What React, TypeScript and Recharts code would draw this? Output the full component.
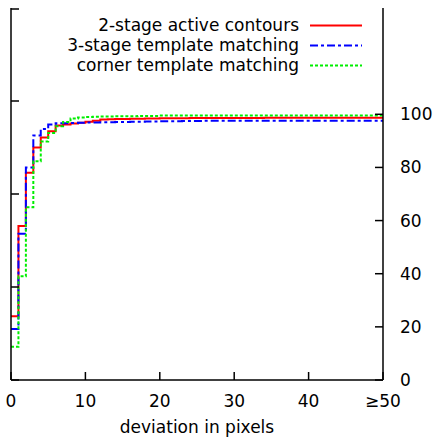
import { LineChart, Line, XAxis, YAxis, Legend } from "recharts";

const deviation = Array.from({ length: 51 }, (_, i) => i);

const activeContours = [
  24, 58, 78, 87.5, 91.3, 93.6, 95.8, 96.2, 96.5, 96.8,
  97.2, 97.6, 98, 98.1, 98.2, 98.2, 98.3, 98.3, 98.4, 98.4,
  98.5, 98.5, 98.5, 98.5, 98.6, 98.6, 98.6, 98.6, 98.6, 98.6,
  98.6, 98.6, 98.6, 98.6, 98.7, 98.7, 98.7, 98.7, 98.7, 98.7,
  98.7, 98.7, 98.7, 98.7, 98.7, 98.7, 98.7, 98.7, 98.7, 98.7,
  98.7,
];

const threeStage = [
  19.2, 55, 80, 92, 94.5, 96.2, 96.6, 96.6, 96.7, 96.8,
  96.9, 96.9, 97, 97, 97.1, 97.1, 97.2, 97.2, 97.3, 97.3,
  97.4, 97.4, 97.4, 97.5, 97.5, 97.5, 97.6, 97.6, 97.6, 97.6,
  97.6, 97.6, 97.6, 97.6, 97.6, 97.6, 97.6, 97.6, 97.6, 97.6,
  97.6, 97.6, 97.6, 97.6, 97.6, 97.6, 97.6, 97.6, 97.6, 97.6,
  97.6,
];

const cornerTemplate = [
  12.5, 39, 65, 82.3, 89.8, 93, 95.5, 97.1, 98.4, 98.8,
  99, 99.1, 99.2, 99.2, 99.3, 99.3, 99.3, 99.4, 99.4, 99.4,
  99.5, 99.5, 99.5, 99.5, 99.5, 99.5, 99.5, 99.5, 99.5, 99.5,
  99.5, 99.5, 99.5, 99.5, 99.5, 99.5, 99.5, 99.5, 99.5, 99.5,
  99.5, 99.5, 99.5, 99.5, 99.5, 99.5, 99.5, 99.5, 99.5, 99.5,
  99.5,
];

const xTicks = [0, 10, 20, 30, 40, 50];
const xTickLabels = ["0", "10", "20", "30", "40", "≥50"];
const yTicks = [0, 20, 40, 60, 80, 100];
const leftTicks = [0, 1, 2, 3, 4];

const SERIES = [
  { key: "a", name: "2-stage active contours", color: "#ff0000", dash: undefined },
  { key: "b", name: "3-stage template matching", color: "#0000ff", dash: "8 3 3 3" },
  { key: "c", name: "corner template matching", color: "#00ee00", dash: "3 2" },
];

const data = deviation.map((x, i) => ({
  x,
  a: activeContours[i],
  b: threeStage[i],
  c: cornerTemplate[i],
}));

const FONT = "DejaVu Sans";

// gnuplot-style ticks point into the plot, drawn as paths
const tickPath = (d: string) => <path d={d} stroke="#000" strokeWidth={1.5} fill="none" />;

const BottomTick = (props: any) => {
  const { x, y, payload } = props;
  const idx = xTicks.indexOf(payload.value);
  return (
    <g>
      <text x={x} y={y + 27} textAnchor="middle" fontSize={17} fontFamily={FONT} fill="#000">
        {xTickLabels[idx]}
      </text>
      {tickPath(`M${x},${y}V${y - 8}`)}
    </g>
  );
};

const TopTick = (props: any) => {
  const { x, y } = props;
  return <g>{tickPath(`M${x},${y}V${y + 8}`)}</g>;
};

const LeftTick = (props: any) => {
  const { x, y } = props;
  return <g>{tickPath(`M${x},${y}H${x + 8}`)}</g>;
};

const RightTick = (props: any) => {
  const { x, y, payload } = props;
  return (
    <g>
      <text x={x + 17} y={y + 6} textAnchor="start" fontSize={17} fontFamily={FONT} fill="#000">
        {payload.value}
      </text>
      {tickPath(`M${x},${y}H${x - 8}`)}
    </g>
  );
};

const LegendBox = () => (
  <svg width={445} height={80}>
    {SERIES.map((s, i) => (
      <g key={s.key}>
        <text
          x={299}
          y={31 + i * 20}
          textAnchor="end"
          fontSize={17}
          fontFamily={FONT}
          fill="#000"
        >
          {s.name}
        </text>
        <line
          x1={310}
          x2={362}
          y1={25.5 + i * 20}
          y2={25.5 + i * 20}
          stroke={s.color}
          strokeWidth={2}
          strokeDasharray={s.dash}
        />
      </g>
    ))}
  </svg>
);

export default function App() {
  return (
    <div style={{ position: "absolute", left: 0, top: 0, width: 445, height: 441, background: "#fff" }}>
      <LineChart
        width={445}
        height={441}
        data={data}
        margin={{ top: 8, right: 0, bottom: 0, left: 0 }}
      >
        <XAxis
          xAxisId="bottom"
          dataKey="x"
          type="number"
          domain={[0, 50]}
          allowDataOverflow
          ticks={xTicks}
          height={61}
          tickSize={0}
          tickMargin={0}
          tick={BottomTick}
          tickLine={false}
          axisLine={{ stroke: "#000", strokeWidth: 1.5 }}
          label={{
            value: "deviation in pixels",
            position: "insideBottom",
            offset: 8,
            fontSize: 17,
            fontFamily: FONT,
            fill: "#000",
          }}
        />
        <XAxis
          xAxisId="top"
          orientation="top"
          dataKey="x"
          type="number"
          domain={[0, 50]}
          allowDataOverflow
          ticks={xTicks}
          height={0}
          tickSize={0}
          tickMargin={0}
          tick={TopTick}
          tickLine={false}
          axisLine={{ stroke: "#000", strokeWidth: 1.5 }}
        />
        <YAxis
          yAxisId="left"
          orientation="left"
          type="number"
          domain={[0, 4]}
          allowDataOverflow
          ticks={leftTicks}
          width={11}
          tickSize={0}
          tickMargin={0}
          tick={LeftTick}
          tickLine={false}
          axisLine={{ stroke: "#000", strokeWidth: 1.5 }}
        />
        <YAxis
          yAxisId="right"
          orientation="right"
          type="number"
          domain={[0, 140]}
          allowDataOverflow
          ticks={yTicks}
          width={62}
          tickSize={0}
          tickMargin={0}
          tick={RightTick}
          tickLine={false}
          axisLine={{ stroke: "#000", strokeWidth: 1.5 }}
        />
        <Legend
          layout="vertical"
          align="center"
          verticalAlign="middle"
          content={<LegendBox />}
          wrapperStyle={{ position: "absolute", top: 0, left: 0, width: 445, height: 80 }}
        />
        {SERIES.map((s) => (
          <Line
            key={s.key}
            xAxisId="bottom"
            yAxisId="right"
            dataKey={s.key}
            name={s.name}
            type="stepAfter"
            stroke={s.color}
            strokeWidth={2}
            strokeDasharray={s.dash}
            dot={false}
            activeDot={false}
            isAnimationActive={false}
          />
        ))}
      </LineChart>
    </div>
  );
}
